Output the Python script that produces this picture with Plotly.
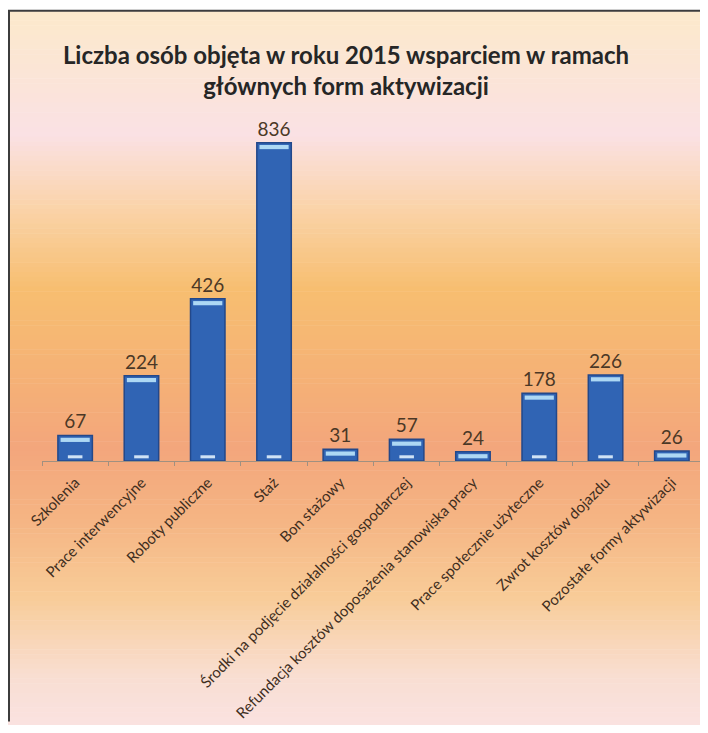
import plotly.graph_objects as go

# dane
kategorie = [
    "Szkolenia",
    "Prace interwencyjne",
    "Roboty publiczne",
    "Staż",
    "Bon stażowy",
    "Środki na podjęcie działalności gospodarczej",
    "Refundacja kosztów doposażenia stanowiska pracy",
    "Prace społecznie użyteczne",
    "Zwrot kosztów dojazdu",
    "Pozostałe formy aktywizacji",
]
liczba_osob = [67, 224, 426, 836, 31, 57, 24, 178, 226, 26]

tytul = "Liczba osób objęta w roku 2015 wsparciem w ramach<br>głównych form aktywizacji"

# strona html ma margines 8px, więc rysunek jest mniejszy i przesunięty
OFF = 8
W, H = 700, 717
ML, MR, MT, MB = 34, 3, 112, 262
PW, PH = W - ML - MR, H - MT - MB


def px_x(sx):
    # współrzędna ekranu -> paper
    return (sx - OFF - ML) / PW


def px_y(sy):
    return (H - MB - (sy - OFF)) / PH


def hex2rgb(h):
    h = h.lstrip("#")
    return [int(h[i:i + 2], 16) for i in (0, 2, 4)]


# gradient tła: (y ekranu w px, kolor)
tlo = [
    (10, "#FCE9CB"),
    (70, "#FBE5D6"),
    (135, "#FAE1E4"),
    (210, "#FAD3A8"),
    (290, "#F7BE70"),
    (380, "#F5B176"),
    (450, "#F3A67C"),
    (520, "#F5B483"),
    (600, "#F8CC98"),
    (680, "#F9DED2"),
    (740, "#FAE3E4"),
]

shapes = []
kroki = 150
for i in range(kroki):
    y0 = 10 + (740 - 10) * i / kroki
    y1 = 10 + (740 - 10) * (i + 1) / kroki
    ym = (y0 + y1) / 2
    for j in range(len(tlo) - 1):
        if tlo[j][0] <= ym <= tlo[j + 1][0]:
            t = (ym - tlo[j][0]) / (tlo[j + 1][0] - tlo[j][0])
            a, b = hex2rgb(tlo[j][1]), hex2rgb(tlo[j + 1][1])
            c = [round(a[k] + (b[k] - a[k]) * t) for k in range(3)]
            break
    shapes.append(dict(
        type="rect", xref="paper", yref="paper", layer="below",
        x0=px_x(8), x1=px_x(OFF + W), y0=px_y(y1 + 0.5), y1=px_y(y0),
        fillcolor="rgb(%d,%d,%d)" % tuple(c), line=dict(width=0),
    ))

# ramka
shapes.append(dict(type="line", xref="paper", yref="paper",
                   x0=px_x(8), x1=px_x(OFF + W), y0=px_y(10), y1=px_y(10),
                   line=dict(color="#3c3c3c", width=2)))
shapes.append(dict(type="line", xref="paper", yref="paper",
                   x0=px_x(9), x1=px_x(9), y0=px_y(10), y1=px_y(OFF + H),
                   line=dict(color="#3c3c3c", width=2)))

fig = go.Figure()

# słupki główne
fig.add_trace(go.Bar(
    x=kategorie,
    y=liczba_osob,
    width=0.52,
    marker=dict(color="#3064B4", line=dict(color="#23488A", width=1.5)),
    text=liczba_osob,
    textposition="outside",
    textfont=dict(family="Lato", size=19, color="#4B3826"),
    cliponaxis=False,
))

# połysk na górze słupka
fig.add_trace(go.Bar(
    x=kategorie,
    y=[11] * len(liczba_osob),
    base=[v - 17 for v in liczba_osob],
    width=0.44,
    marker=dict(color="rgba(180,222,248,0.95)", line=dict(width=0)),
    hoverinfo="skip",
))

# połysk przy podstawie
duze = [k for k, v in zip(kategorie, liczba_osob) if v > 40]
fig.add_trace(go.Bar(
    x=duze,
    y=[8] * len(duze),
    base=[7] * len(duze),
    width=0.22,
    marker=dict(color="rgba(225,240,252,0.9)", line=dict(width=0)),
    hoverinfo="skip",
))

fig.update_layout(
    width=W,
    height=H,
    margin=dict(l=ML, r=MR, t=MT, b=MB),
    paper_bgcolor="white",
    plot_bgcolor="rgba(0,0,0,0)",
    barmode="overlay",
    showlegend=False,
    shapes=shapes,
    title=dict(
        text=tytul,
        x=338 / W,
        xanchor="center",
        y=1 - 56 / H,
        yanchor="top",
        yref="container",
        font=dict(family="Lato", size=24, color="#262626", weight="bold"),
    ),
    xaxis=dict(
        type="category",
        tickangle=-45,
        tickfont=dict(family="Lato", size=15, color="#3F2E1E"),
        showline=True,
        linecolor="#A09080",
        linewidth=1,
        ticks="outside",
        tickson="boundaries",
        ticklen=4,
        tickcolor="#A09080",
        ticklabelstandoff=6,
        showgrid=False,
    ),
    yaxis=dict(
        range=[0, PH / 0.383],
        visible=False,
        showgrid=False,
        zeroline=False,
    ),
)

fig.write_html("out.html")
